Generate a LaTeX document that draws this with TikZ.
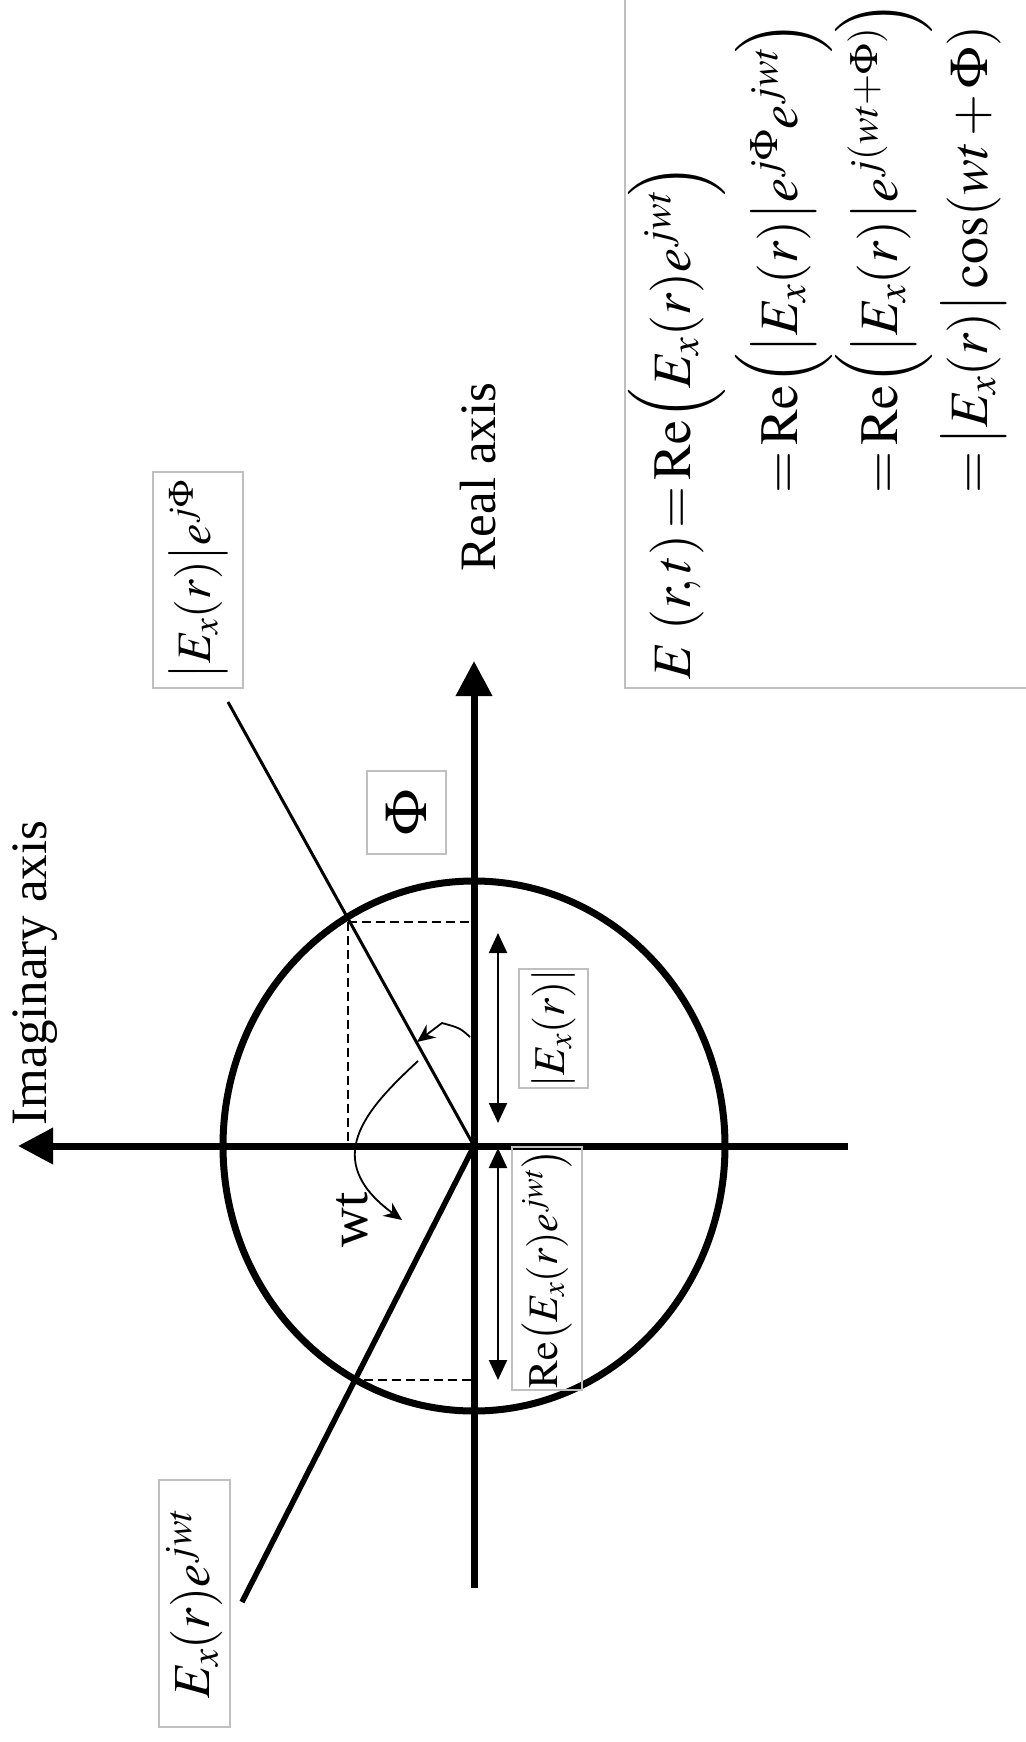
\documentclass[tikz,border=0pt]{standalone}
\usepackage{amsmath}
\usepackage{mathptmx}
\usepackage{fontspec}
\setmainfont{Liberation Serif}
\usetikzlibrary{arrows.meta}
\newcommand{\Rex}[1]{\mathrm{Re}\Bigl(#1\!\Bigr)}
\newcommand{\absx}[1]{\bigl|#1\bigr|}
\newcommand{\tightmath}{\thickmuskip=2mu\medmuskip=2mu}

\begin{document}
\begin{tikzpicture}[x=1pt, y=-1pt,
    axis/.style={line width=7pt, -{Triangle[length=35pt, width=35pt]}},
    ring/.style={line width=7pt},
    ray/.style={line width=3pt},
    phasor/.style={line width=5.5pt},
    proj/.style={line width=1.6pt, dash pattern=on 9pt off 5pt},
    span/.style={line width=2.2pt, {Triangle[length=20pt, width=18pt]}-{Triangle[length=20pt, width=18pt]}},
    turn/.style={line width=1.8pt, -{Stealth[length=18pt, width=16pt]}},
    lbl/.style={rotate=90, inner sep=0pt, font=\fontsize{51}{60}\selectfont},
    tag/.style={draw=black!25, line width=2pt, rotate=90, inner sep=0pt, font=\fontsize{48}{56}\selectfont\tightmath},
    eqn/.style={rotate=90, anchor=base west, inner sep=0pt, font=\fontsize{54}{62}\selectfont\tightmath}]

    \useasboundingbox (0,0) rectangle (1025,1742);

    % 原点与坐标轴
    \coordinate (O) at (474,1146);
    \coordinate (imEnd) at (18,1146);
    \coordinate (imStart) at (848,1146);
    \coordinate (reEnd) at (474,661);
    \coordinate (reStart) at (474,1588);
    \draw[axis] (imStart) -- (imEnd);
    \draw[axis] (reStart) -- (reEnd);

    % 单位圆
    \draw[ring] (O) ellipse (251 and 265);

    % 两条相量线
    \coordinate (P) at (348,922);
    \coordinate (rayEnd) at (228,702);
    \coordinate (Q) at (350,1380);
    \coordinate (phEnd) at (242,1602);
    \draw[ray] (O) -- (rayEnd);
    \draw[phasor] (O) -- (phEnd);

    % 投影虚线
    \coordinate (Pre) at (471,922);
    \coordinate (Pim) at (348,1146);
    \coordinate (Qre) at (471,1380);
    \draw[proj] (P) -- (Pre);
    \draw[proj] (P) -- (Pim);
    \draw[proj] (Q) -- (Qre);

    % 长度双箭头
    \coordinate (a1) at (498,933);
    \coordinate (a2) at (498,1123);
    \coordinate (b1) at (498,1148);
    \coordinate (b2) at (498,1380);
    \draw[span] (a1) -- (a2);
    \draw[span] (b1) -- (b2);

    % 角度箭头
    \coordinate (phiA) at (470,1037);
    \coordinate (phiB) at (442,1023);
    \coordinate (phiC) at (417,1042);
    \draw[turn] (phiA) .. controls (460,1028) .. (phiB) -- (phiC);
    \coordinate (wtA) at (418,1061);
    \coordinate (wtB) at (402,1220);
    \draw[turn] (wtA) .. controls (365,1110) and (320,1160) .. (wtB);

    % 轴标签
    \node[lbl] (imLabel) at (35,973) {Imaginary axis};
    \node[lbl] (reLabel) at (478,477) {Real axis};
    \node[lbl, font=\fontsize{55}{60}\selectfont] (wtLabel) at (352,1220) {wt};

    % 方框标签
    \node[tag, minimum width=216pt, minimum height=90pt] (tagPhase) at (198,580) {$\absx{E_x(r)}e^{j\Phi}$};
    \node[tag, minimum width=247pt, minimum height=71pt, font=\fontsize{52}{58}\selectfont\tightmath] (tagPhasor) at (194.5,1603.5) {$E_x(r)e^{jwt}$};
    \node[tag, minimum width=83pt, minimum height=79pt, font=\fontsize{60}{66}\selectfont] (tagPhi) at (406.5,812.5) {$\Phi$};
    \node[tag, minimum width=115pt, minimum height=69pt, font=\fontsize{44}{52}\selectfont\tightmath] (tagAmp) at (553.5,1028.5) {$\left|E_x(r)\right|$};
    \node[tag, minimum width=243pt, minimum height=70pt, font=\fontsize{42}{50}\selectfont\tightmath] (tagRe) at (547,1268.5) {$\mathrm{Re}\bigl(E_x(r)e^{jwt}\bigr)$};

    % 公式框
    \draw[draw=black!25, line width=2pt] (625,-10) rectangle (1040,688);
    \node[eqn] (eq1) at (690,680) {$E\,\,(r,t)=\Rex{E_x(r)e^{jwt}}$};
    \node[eqn] (eq2) at (797,500) {${}=\Rex{\absx{E_x(r)}e^{j\Phi}e^{jwt}}$};
    \node[eqn] (eq3) at (897,500) {${}=\Rex{\absx{E_x(r)}e^{j(wt+\Phi)}}$};
    \node[eqn] (eq4) at (987,500) {${}=\absx{E_x(r)}\cos(wt+\Phi)$};
\end{tikzpicture}
\end{document}
